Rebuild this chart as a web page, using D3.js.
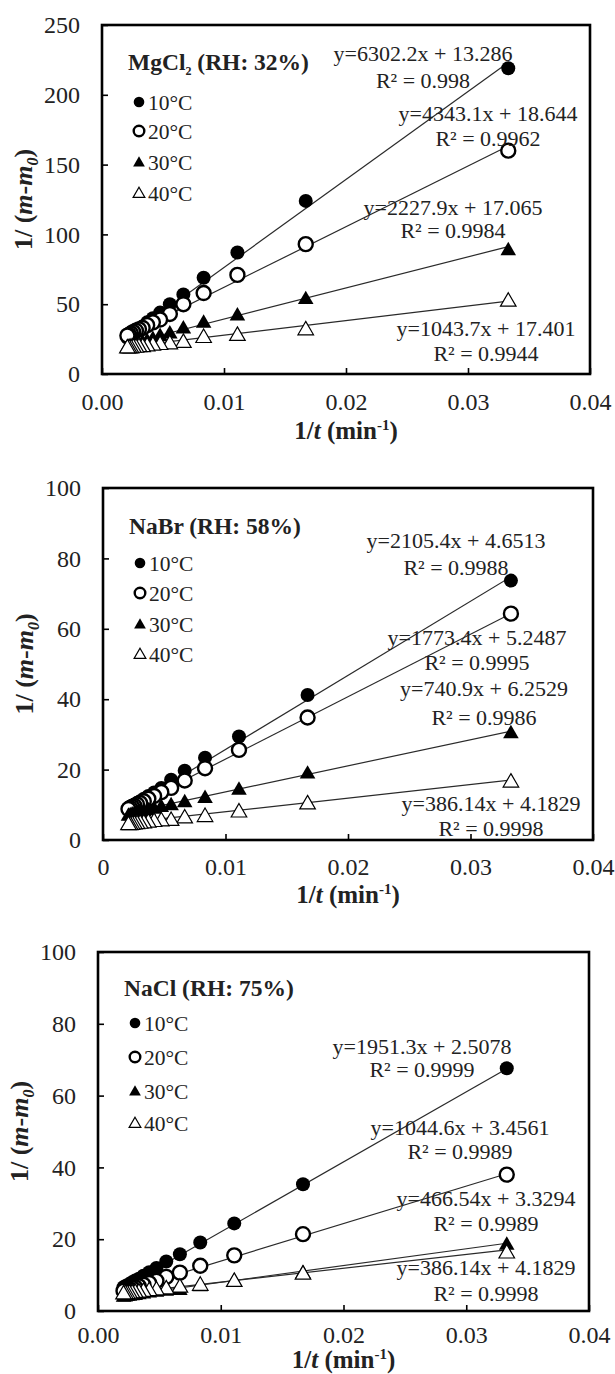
<!DOCTYPE html>
<html><head><meta charset="utf-8">
<script src="https://cdn.jsdelivr.net/npm/d3@7"></script>
<style>
html,body{margin:0;padding:0;background:#fff;}
svg{display:block;}
svg text{font-family:"Liberation Serif","Times New Roman",serif !important;}
</style></head>
<body>
<script>
// ---------- DATA ----------
const invT = [0.0333, 0.0167, 0.0111, 0.00833, 0.00667, 0.00556, 0.00476, 0.00417, 0.0037, 0.00333, 0.00303, 0.00278, 0.00256, 0.00238, 0.00222, 0.00208];
const seriesLabels = ["10°C", "20°C", "30°C", "40°C"];

const mgcl2_10 = [219, 124, 87, 69, 57, 50, 44, 40, 37, 34, 32, 31, 29, 28, 27, 26];
const mgcl2_20 = [160, 93, 71, 58, 50, 43, 39, 37, 35, 33, 32, 31, 30, 29, 28, 27.5];
const mgcl2_30 = [89, 54, 42.3, 37, 32.9, 29.4, 27.5, 25.5, 24, 23, 22, 21.5, 21, 20.5, 20, 19.5];
const mgcl2_40 = [52.5, 32, 28, 26.5, 23, 22, 21.5, 21, 20.5, 20, 20, 19.5, 19.5, 19, 19, 19];
const mgcl2Slopes = [6302.2, 4343.1, 2227.9, 1043.7];
const mgcl2Intercepts = [13.286, 18.644, 17.065, 17.401];
const mgcl2R2 = ["0.998", "0.9962", "0.9984", "0.9944"];

const nabr_10 = [73.7, 41.2, 29.4, 23.4, 19.7, 17.1, 14.8, 13.5, 12.5, 11.7, 11.0, 10.5, 10.0, 9.7, 9.3, 9.0];
const nabr_20 = [64.3, 34.8, 25.6, 20.4, 16.9, 14.8, 13.6, 12.5, 11.7, 11.0, 10.5, 10.1, 9.7, 9.4, 9.1, 8.8];
const nabr_30 = [30.5, 19.0, 14.4, 12.1, 10.9, 10.0, 9.5, 9.0, 8.6, 8.3, 8.0, 7.8, 7.6, 7.4, 7.2, 7.0];
const nabr_40 = [16.6, 10.4, 8.1, 6.8, 6.4, 5.7, 5.6, 5.4, 5.2, 5.0, 4.9, 4.8, 4.7, 4.6, 4.5, 4.5];
const nabrSlopes = [2105.4, 1773.4, 740.9, 386.14];
const nabrIntercepts = [4.6513, 5.2487, 6.2529, 4.1829];
const nabrR2 = ["0.9988", "0.9995", "0.9986", "0.9998"];

const nacl_10 = [67.6, 35.3, 24.4, 19.1, 15.8, 13.8, 12.0, 10.8, 9.8, 9.0, 8.5, 8.0, 7.5, 7.2, 6.9, 6.6];
const nacl_20 = [38.0, 21.4, 15.5, 12.6, 10.7, 9.5, 8.4, 7.8, 7.3, 6.9, 6.6, 6.4, 6.1, 6.0, 5.8, 5.6];
const nacl_30 = [18.6, 10.7, 8.4, 7.0, 6.0, 5.8, 5.5, 5.3, 5.0, 4.8, 4.6, 4.5, 4.4, 4.3, 4.2, 4.1];
const nacl_40 = [16.3, 10.4, 8.4, 7.3, 6.8, 6.3, 6.0, 5.8, 5.6, 5.4, 5.3, 5.2, 5.1, 5.0, 5.0, 4.9];
const naclSlopes = [1951.3, 1044.6, 466.54, 386.14];
const naclIntercepts = [2.5078, 3.4561, 3.3294, 4.1829];
const naclR2 = ["0.9999", "0.9989", "0.9989", "0.9998"];

const xTicks = [0, 0.01, 0.02, 0.03, 0.04];
const xTickLabelsA = ["0.00", "0.01", "0.02", "0.03", "0.04"];
const xTickLabelsB = ["0", "0.01", "0.02", "0.03", "0.04"];
const yTicks250 = [0, 50, 100, 150, 200, 250];
const yTicks100 = [0, 20, 40, 60, 80, 100];

// ---------- PANELS ----------
const panelDefs = [
  {salt: "MgCl", sub: "2", rest: " (RH: 32%)", series: [mgcl2_10, mgcl2_20, mgcl2_30, mgcl2_40],
   slopes: mgcl2Slopes, intercepts: mgcl2Intercepts, r2: mgcl2R2, yMax: 250, yTicks: yTicks250, xLabels: xTickLabelsA},
  {salt: "NaBr", sub: "", rest: " (RH: 58%)", series: [nabr_10, nabr_20, nabr_30, nabr_40],
   slopes: nabrSlopes, intercepts: nabrIntercepts, r2: nabrR2, yMax: 100, yTicks: yTicks100, xLabels: xTickLabelsB},
  {salt: "NaCl", sub: "", rest: " (RH: 75%)", series: [nacl_10, nacl_20, nacl_30, nacl_40],
   slopes: naclSlopes, intercepts: naclIntercepts, r2: naclR2, yMax: 100, yTicks: yTicks100, xLabels: xTickLabelsA}
];

// layout (pixels)
const layout = [
  {left: 102, right: 590, top: 25, bottom: 374,
   eqX: [321, 386, 351, 384], eqY: [36, 96, 190, 311], r2Y: [63, 121, 213, 336],
   legY: [77, 106, 137, 168], titleY: 45, xTitleY: 65, tickPad: 19},
  {left: 103, right: 593, top: 488, bottom: 840,
   eqX: [353, 374, 381, 388], eqY: [60, 157, 208, 323], r2Y: [87, 182, 237, 348],
   legY: [75, 105, 136, 166], titleY: 46, xTitleY: 63, tickPad: 18},
  {left: 98, right: 589, top: 952, bottom: 1311,
   eqX: [324, 362, 388, 388], eqY: [102, 183, 254, 323], r2Y: [125, 207, 279, 349],
   legY: [71, 105, 139, 171], titleY: 44, xTitleY: 57, tickPad: 15}
];

const styles = [
  {shape: "circle", fill: "#000", stroke: "#000", sw: 0},
  {shape: "circle", fill: "#fff", stroke: "#000", sw: 2.4},
  {shape: "triangle", fill: "#000", stroke: "#000", sw: 0},
  {shape: "triangle", fill: "#fff", stroke: "#000", sw: 1.2}
];

const svg = d3.select("body").append("svg").attr("width", 615).attr("height", 1374);
const textColor = "#222";
const FONT = "Liberation Serif";

function marker(g, st, x, y, big) {
  if (st.shape === "circle") {
    g.append("circle").attr("cx", x).attr("cy", y).attr("r", big ? 7 : 5.3)
      .attr("fill", st.fill).attr("stroke", st.stroke).attr("stroke-width", st.sw);
  } else {
    g.append("path").attr("d", d3.symbol(d3.symbolTriangle, big ? 105 : 60)())
      .attr("transform", `translate(${x},${y + 1})`)
      .attr("fill", st.fill).attr("stroke", st.stroke).attr("stroke-width", st.sw)
      .attr("stroke-linejoin", "miter");
  }
}

panelDefs.forEach((p, pi) => {
  const L = layout[pi];
  const x = d3.scaleLinear().domain([0, 0.04]).range([L.left, L.right]);
  const y = d3.scaleLinear().domain([0, p.yMax]).range([L.bottom, L.top]);
  const g = svg.append("g").attr("font-family", FONT);

  // axes
  const xa = g.append("g").attr("transform", `translate(0,${L.bottom})`)
    .call(d3.axisBottom(x).tickValues(xTicks).tickSizeInner(-6).tickSizeOuter(0).tickPadding(L.tickPad)
      .tickFormat((d, i) => p.xLabels[i]));
  xa.attr("font-family", FONT);
  xa.select(".domain").remove();
  xa.selectAll("line").attr("stroke", "#000").attr("stroke-width", 1.6);
  xa.selectAll("text").attr("font-size", 24).attr("fill", textColor).style("font-family", FONT);

  const ya = g.append("g").attr("transform", `translate(${L.left},0)`)
    .call(d3.axisLeft(y).tickValues(p.yTicks).tickSizeInner(-6).tickSizeOuter(0).tickPadding(22));
  ya.attr("font-family", FONT);
  ya.select(".domain").remove();
  ya.selectAll("line").attr("stroke", "#000").attr("stroke-width", 1.6);
  ya.selectAll("text").attr("font-size", 24).attr("fill", textColor).style("font-family", FONT);

  // frame
  g.append("rect").attr("x", L.left).attr("y", L.top)
    .attr("width", L.right - L.left).attr("height", L.bottom - L.top)
    .attr("fill", "none").attr("stroke", "#000").attr("stroke-width", 2.6);

  // trend lines
  const xmin = d3.min(invT), xmax = d3.max(invT);
  p.slopes.forEach((s, i) => {
    g.append("line")
      .attr("x1", x(xmin)).attr("y1", y(s * xmin + p.intercepts[i]))
      .attr("x2", x(xmax)).attr("y2", y(s * xmax + p.intercepts[i]))
      .attr("stroke", "#2a2a2a").attr("stroke-width", 1.2);
  });

  // points
  p.series.forEach((vals, si) => {
    const sg = g.append("g");
    vals.forEach((v, k) => marker(sg, styles[si], x(invT[k]), y(v), true));
  });

  // equations
  p.slopes.forEach((s, i) => {
    g.append("text").attr("x", L.left + L.eqX[i]).attr("y", L.top + L.eqY[i])
      .attr("text-anchor", "middle").attr("font-size", 22).attr("fill", textColor)
      .text(`y=${s}x + ${p.intercepts[i]}`);
    g.append("text").attr("x", L.left + L.eqX[i]).attr("y", L.top + L.r2Y[i])
      .attr("text-anchor", "middle").attr("font-size", 22).attr("fill", textColor)
      .text(`R² = ${p.r2[i]}`);
  });

  // title
  const t = g.append("text").attr("x", L.left + 26).attr("y", L.top + L.titleY)
    .attr("font-size", 23.5).attr("font-weight", "bold").attr("fill", textColor);
  t.append("tspan").text(p.salt);
  if (p.sub) {
    t.append("tspan").attr("font-size", 12).attr("dy", 5).text(p.sub);
    t.append("tspan").attr("dy", -5).text(p.rest);
  } else {
    t.append("tspan").text(p.rest);
  }

  // legend
  seriesLabels.forEach((lab, i) => {
    const cy = L.top + L.legY[i];
    marker(g, styles[i], L.left + 37, cy, false);
    g.append("text").attr("x", L.left + 46).attr("y", cy + 7.5)
      .attr("font-size", 21.5).attr("fill", textColor).text(lab);
  });

  // x title
  const xt = g.append("text").attr("x", (L.left + L.right) / 2).attr("y", L.bottom + L.xTitleY)
    .attr("text-anchor", "middle").attr("font-size", 25).attr("font-weight", "bold").attr("fill", textColor);
  xt.append("tspan").text("1/");
  xt.append("tspan").attr("font-style", "italic").text("t");
  xt.append("tspan").text(" (min");
  xt.append("tspan").attr("font-size", 15).attr("dy", -9).text("-1");
  xt.append("tspan").attr("dy", 9).text(")");

  // y title
  const cyT = (L.top + L.bottom) / 2;
  const yt = g.append("text").attr("transform", `translate(${L.left - 70},${cyT}) rotate(-90)`)
    .attr("text-anchor", "middle").attr("font-size", 26).attr("font-weight", "bold").attr("fill", textColor);
  yt.append("tspan").text("1/ (");
  yt.append("tspan").attr("font-style", "italic").text("m");
  yt.append("tspan").text("-");
  yt.append("tspan").attr("font-style", "italic").text("m");
  yt.append("tspan").attr("font-style", "italic").attr("font-size", 16).attr("dy", 6).text("0");
  yt.append("tspan").attr("dy", -6).text(")");
});
</script>
</body></html>
